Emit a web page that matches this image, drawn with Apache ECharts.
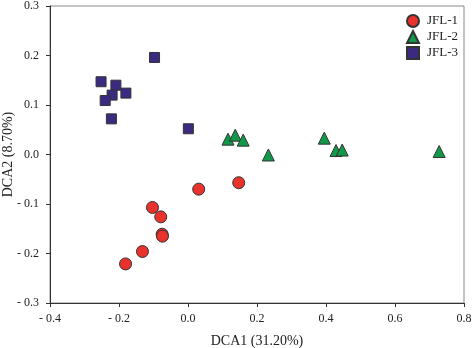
<!DOCTYPE html>
<html>
<head>
<meta charset="utf-8">
<script src="https://cdn.jsdelivr.net/npm/echarts@6/dist/echarts.min.js"></script>
<style>
  html, body { margin: 0; padding: 0; background: #fff; }
  #main { width: 472px; height: 348px; }
</style>
</head>
<body>
<div id="main"></div>
<script>
// DCA1 / DCA2 scores
var jfl1 = [
  [-0.181, -0.221], [-0.132, -0.196], [-0.103, -0.107], [-0.079, -0.126],
  [-0.075, -0.161], [-0.074, -0.165], [0.031, -0.070], [0.147, -0.057]
];
var jfl2 = [
  [0.116, 0.031], [0.137, 0.039], [0.160, 0.029], [0.233, -0.001],
  [0.395, 0.033], [0.429, 0.008], [0.447, 0.009], [0.728, 0.006]
];
var jfl3 = [
  [-0.252, 0.147], [-0.097, 0.196], [-0.209, 0.140], [-0.220, 0.120],
  [-0.180, 0.124], [-0.240, 0.109], [-0.222, 0.072], [0.001, 0.052]
];
var seriesNames = ['JFL-1', 'JFL-2', 'JFL-3'];

var font = 'Liberation Serif';
var chart = echarts.init(document.getElementById('main'));

// "- 0.1" style labels
function fmt(v) {
  var s = Math.abs(v).toFixed(1);
  return v < -1e-9 ? '- ' + s : s;
}

var option = {
  animation: false,
  textStyle: { fontFamily: font },
  grid: {
    left: 50, right: 8, top: 6, bottom: 45,
    outerBoundsMode: 'none',
    show: true, borderColor: '#888', borderWidth: 1
  },
  legend: {
    orient: 'vertical',
    left: 401, top: 9,
    itemWidth: 12, itemHeight: 12, itemGap: 2,
    textStyle: { fontFamily: font, fontSize: 13, color: '#222', padding: [0, 0, 0, 3] },
    data: seriesNames
  },
  xAxis: {
    type: 'value', min: -0.4, max: 0.8, interval: 0.2,
    name: 'DCA1 (31.20%)', nameLocation: 'middle', nameGap: 31, nameMoveOverlap: false,
    nameTextStyle: { fontFamily: font, fontSize: 14, color: '#222' },
    axisLine: { show: true, onZero: false, lineStyle: { color: '#333' } },
    axisTick: { show: true, length: 4, lineStyle: { color: '#333' } },
    axisLabel: { fontFamily: font, fontSize: 12, color: '#222', margin: 10, formatter: fmt },
    splitLine: { show: false }
  },
  yAxis: {
    type: 'value', min: -0.3, max: 0.3, interval: 0.1,
    name: 'DCA2 (8.70%)', nameLocation: 'middle', nameGap: 35, nameMoveOverlap: false,
    nameTextStyle: { fontFamily: font, fontSize: 14, color: '#222' },
    axisLine: { show: true, onZero: false, lineStyle: { color: '#333' } },
    axisTick: { show: true, length: 4, lineStyle: { color: '#333' } },
    axisLabel: { fontFamily: font, fontSize: 12, color: '#222', margin: 11, formatter: fmt },
    splitLine: { show: false }
  },
  series: [
    {
      name: 'JFL-1', type: 'scatter', symbol: 'circle', symbolSize: 12,
      itemStyle: { color: '#e8322b', borderColor: '#333', borderWidth: 1, opacity: 1 },
      data: jfl1
    },
    {
      name: 'JFL-2', type: 'scatter', symbol: 'triangle', symbolSize: 12,
      itemStyle: { color: '#11994a', borderColor: '#333', borderWidth: 1, opacity: 1 },
      data: jfl2
    },
    {
      name: 'JFL-3', type: 'scatter', symbol: 'rect', symbolSize: 10,
      itemStyle: { color: '#3b2a80', borderColor: '#333', borderWidth: 1, opacity: 1 },
      data: jfl3
    }
  ]
};
chart.setOption(option);
</script>
</body>
</html>
